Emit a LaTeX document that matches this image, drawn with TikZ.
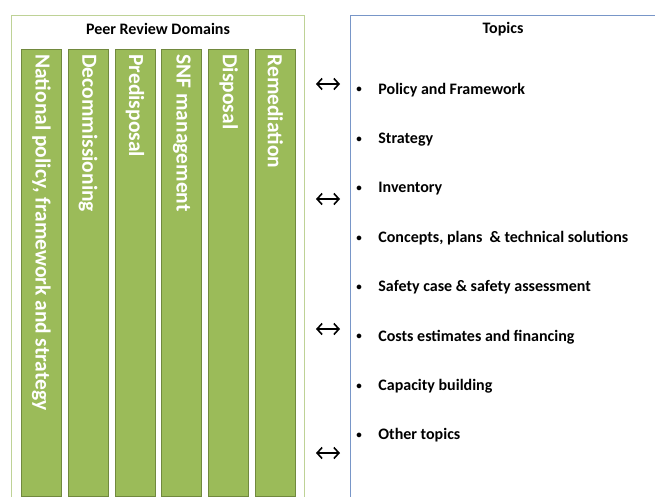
\documentclass[tikz,border=0pt]{standalone}
\usepackage{fontspec}
\setmainfont{Carlito}
\usetikzlibrary{arrows.meta,positioning}

\definecolor{bargreen}{RGB}{155,187,89}
\definecolor{bardark}{RGB}{113,137,62}
\definecolor{domainline}{RGB}{190,210,150}
\definecolor{topicline}{RGB}{120,150,200}

\newcommand{\topicdot}{\makebox[22pt][l]{\raisebox{1.2pt}{\fontsize{11}{11}\selectfont\textbullet}}}

\begin{document}
\begin{tikzpicture}[x=1pt,y=-1pt,thick,
        bar/.style={draw=bardark,fill=bargreen,line width=0.8pt,minimum width=40pt,
          minimum height=447pt,inner sep=0pt,anchor=north west},
        bar text/.style={rotate=-90,anchor=west,text=white,inner sep=0pt,
          font=\bfseries\fontsize{21.5}{24}\selectfont},
        box title/.style={font=\bfseries\fontsize{16}{18}\selectfont,inner sep=0pt},
        topic/.style={font=\bfseries\fontsize{16}{18}\selectfont,inner sep=0pt,
          text height=12pt,text depth=4pt},
        link/.style={{Straight Barb[length=5pt,width=11pt]}-{Straight Barb[length=5pt,width=11pt]},
          line width=1.6pt}]
        \useasboundingbox (0,0) rectangle (655,496);
        \clip (0,0) rectangle (655,496);

        % the two frames
        \node[draw=domainline,line width=1.4pt,minimum width=293pt,minimum height=500pt,
          anchor=north west] (domains) at (11,15) {};
        \node[draw=topicline,line width=1.2pt,minimum width=320pt,minimum height=500pt,
          anchor=north west] (topics) at (350,15) {};
        \node[box title] (dtitle) at (158,29) {Peer Review Domains};
        \node[box title] (ttitle) at (503,29) {Topics};

        % domain bars
        \node[bar] (b1) at (21,49) {};
        \node[bar] (b2) [right = 6pt of b1] {};
        \node[bar] (b3) [right = 6pt of b2] {};
        \node[bar] (b4) [right = 6pt of b3] {};
        \node[bar] (b5) [right = 6pt of b4] {};
        \node[bar] (b6) [right = 6pt of b5] {};
        \node[bar text] at ([yshift=-5pt]b1.north) {National policy, framework and strategy};
        \node[bar text] at ([yshift=-5pt]b2.north) {Decommissioning};
        \node[bar text] at ([yshift=-5pt]b3.north) {Predisposal};
        \node[bar text] at ([yshift=-5pt]b4.north) {SNF management};
        \node[bar text] at ([yshift=-5pt]b5.north) {Disposal};
        \node[bar text] at ([yshift=-5pt]b6.north) {Remediation};

        % topics
        \node[topic,anchor=west] (t1) at (356,90) {\topicdot Policy and Framework};
        \node[topic] (t2) [below = 32.6pt of t1.south west,anchor=north west] {\topicdot Strategy};
        \node[topic] (t3) [below = 32.6pt of t2.south west,anchor=north west] {\topicdot Inventory};
        \node[topic] (t4) [below = 32.6pt of t3.south west,anchor=north west] {\topicdot Concepts, plans~ \& technical solutions};
        \node[topic] (t5) [below = 32.6pt of t4.south west,anchor=north west] {\topicdot Safety case \& safety assessment};
        \node[topic] (t6) [below = 32.6pt of t5.south west,anchor=north west] {\topicdot Costs estimates and financing};
        \node[topic] (t7) [below = 32.6pt of t6.south west,anchor=north west] {\topicdot Capacity building};
        \node[topic] (t8) [below = 32.6pt of t7.south west,anchor=north west] {\topicdot Other topics};

        % links between the frames
        \coordinate (l1) at (316,84);  \coordinate (r1) at (340,84);
        \coordinate (l2) at (316,199); \coordinate (r2) at (340,199);
        \coordinate (l3) at (316,329); \coordinate (r3) at (340,329);
        \coordinate (l4) at (316,453); \coordinate (r4) at (340,453);
        \draw[link] (l1) -- (r1);
        \draw[link] (l2) -- (r2);
        \draw[link] (l3) -- (r3);
        \draw[link] (l4) -- (r4);
\end{tikzpicture}
\end{document}
